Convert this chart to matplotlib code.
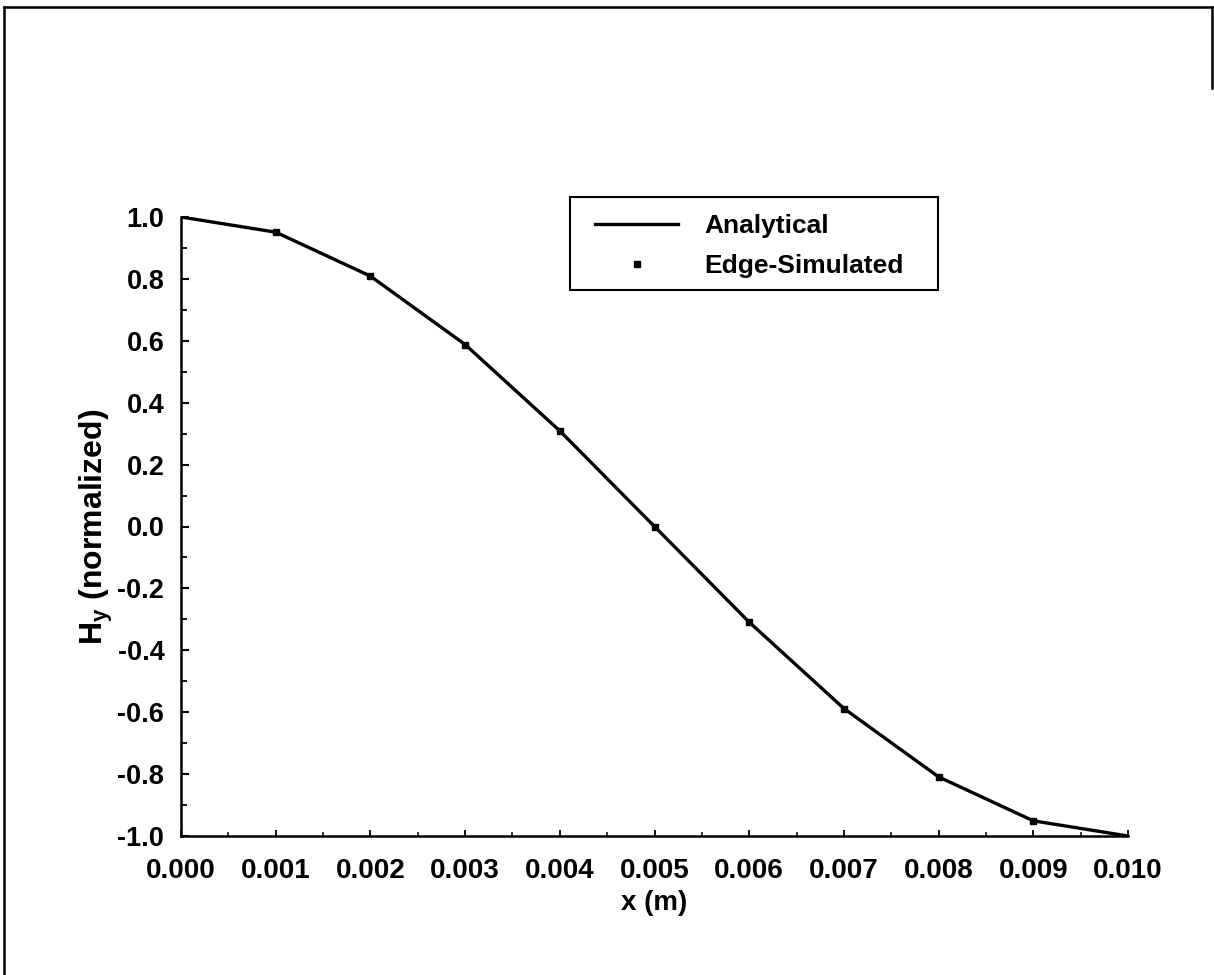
import matplotlib
matplotlib.use("Agg")
import matplotlib.pyplot as plt
from matplotlib.lines import Line2D
from matplotlib.patches import Rectangle
from matplotlib.ticker import MultipleLocator, FormatStrFormatter

# Data
x_analytical = [0.000, 0.001, 0.002, 0.003, 0.004, 0.005, 0.006, 0.007, 0.008, 0.009, 0.010]
hy_analytical = [1.000, 0.951, 0.809, 0.588, 0.309, 0.000, -0.309, -0.588, -0.809, -0.951, -1.000]
x_simulated = [0.001, 0.002, 0.003, 0.004, 0.005, 0.006, 0.007, 0.008, 0.009]
hy_simulated = [0.952, 0.810, 0.588, 0.310, 0.000, -0.310, -0.589, -0.810, -0.952]
x_ticks = [0.000, 0.001, 0.002, 0.003, 0.004, 0.005, 0.006, 0.007, 0.008, 0.009, 0.010]
y_ticks = [-1.0, -0.8, -0.6, -0.4, -0.2, 0.0, 0.2, 0.4, 0.6, 0.8, 1.0]

plt.rcParams['font.family'] = ['Liberation Sans', 'DejaVu Sans']
plt.rcParams['font.weight'] = 'bold'
plt.rcParams['mathtext.fontset'] = 'custom'
plt.rcParams['mathtext.rm'] = 'Liberation Sans:bold'
plt.rcParams['mathtext.it'] = 'Liberation Sans:bold'
plt.rcParams['mathtext.bf'] = 'Liberation Sans:bold'

W, H = 1214, 975
fig = plt.figure(figsize=(W / 100, H / 100), dpi=100)
ax = fig.add_axes([181 / W, 1 - 836 / H, (1128 - 181) / W, (836 - 217) / H])

ax.plot(x_analytical, hy_analytical, color='black', lw=2.4, label='Analytical', zorder=3)
ax.plot(x_simulated, hy_simulated, linestyle='none', marker='s', ms=5,
        color='black', label='Edge-Simulated', zorder=4)

ax.set_xlim(0.0, 0.010)
ax.set_ylim(-1.0, 1.0)
ax.set_xticks(x_ticks)
ax.set_yticks(y_ticks)
ax.xaxis.set_major_formatter(FormatStrFormatter('%.3f'))
ax.yaxis.set_major_formatter(FormatStrFormatter('%.1f'))
ax.xaxis.set_minor_locator(MultipleLocator(0.0005))
ax.yaxis.set_minor_locator(MultipleLocator(0.1))

for s in ['top', 'right']:
    ax.spines[s].set_visible(False)
for s in ['left', 'bottom']:
    ax.spines[s].set_linewidth(1.8)

ax.tick_params(axis='y', which='major', direction='in', length=6, width=1.5,
               labelsize=19.5, pad=12)
ax.tick_params(axis='y', which='minor', direction='in', length=4, width=1.3)
ax.tick_params(axis='x', which='major', direction='in', length=4, width=1.3,
               labelsize=20, pad=16)
ax.tick_params(axis='x', which='minor', direction='in', length=3, width=1.1)
for lbl in ax.get_xticklabels() + ax.get_yticklabels():
    lbl.set_fontweight('bold')

ax.set_xlabel('x (m)', fontsize=20, fontweight='bold', labelpad=4)
ax.set_ylabel(r'H$_{\mathrm{y}}$ (normalized)', fontsize=23, fontweight='bold', labelpad=2)

leg = ax.legend(loc='upper left', bbox_to_anchor=(595 / W, 1 - 214 / H),
                bbox_transform=fig.transFigure, frameon=False,
                borderpad=0.0, handlelength=3.15,
                handletextpad=1.0, labelspacing=0.62, borderaxespad=0,
                prop={'weight': 'bold', 'size': 19})

# Legend frame box as in the reference
fig.add_artist(Rectangle((570 / W, 1 - 290 / H), (938 - 570) / W, (290 - 197) / H,
                         transform=fig.transFigure, fill=False,
                         edgecolor='black', lw=1.5))

# Outer page frame (scanned border)
fig.add_artist(Line2D([4 / W, 4 / W], [0, 1 - 7 / H], transform=fig.transFigure,
                      color='black', lw=1.8))
fig.add_artist(Line2D([4 / W, 1212 / W], [1 - 7 / H, 1 - 7 / H], transform=fig.transFigure,
                      color='black', lw=1.8))
fig.add_artist(Line2D([1212 / W, 1212 / W], [1 - 7 / H, 1 - 88 / H], transform=fig.transFigure,
                      color='black', lw=1.8))

fig.savefig('out.png', dpi=100)
